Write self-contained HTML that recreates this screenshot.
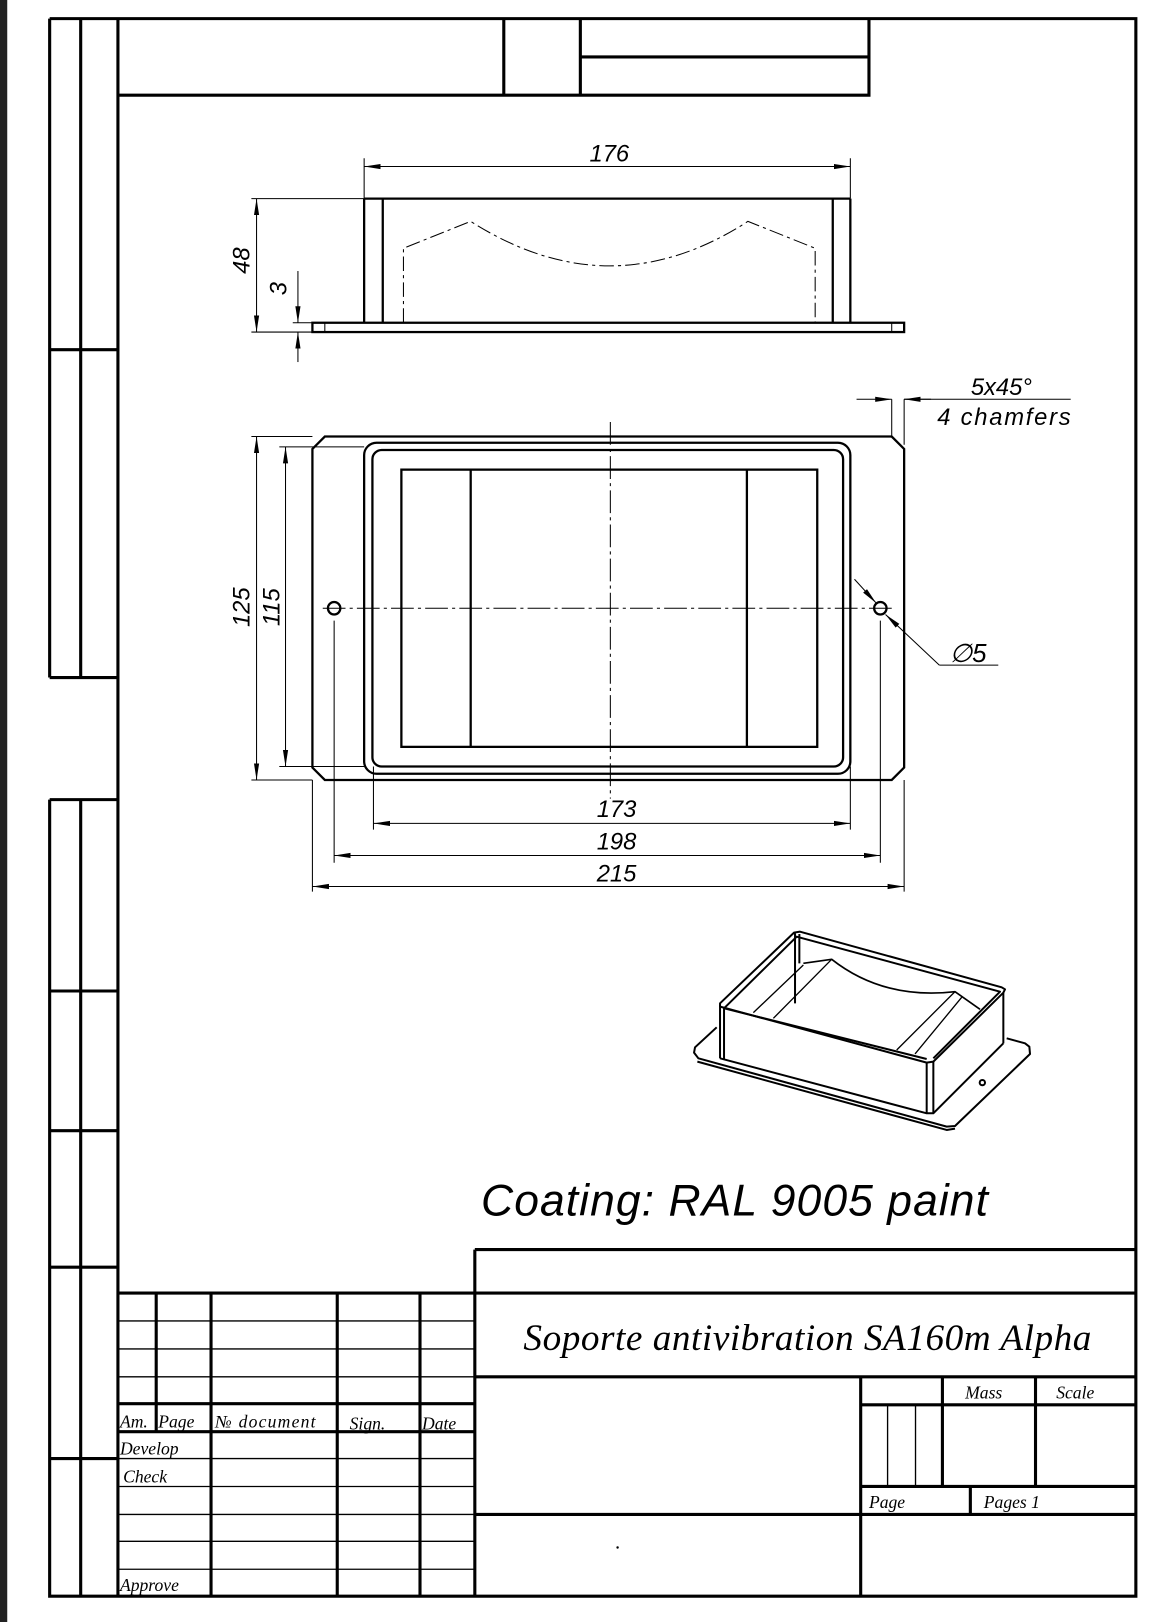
<!DOCTYPE html>
<html><head><meta charset="utf-8"><style>
html,body{margin:0;padding:0;background:#fff;}
svg{display:block;}
.d{font-family:"Liberation Sans",sans-serif;font-style:italic;}
.s{font-family:"Liberation Serif",serif;font-style:italic;}
</style></head><body>
<svg width="1170" height="1622" viewBox="0 0 1131 1568" preserveAspectRatio="none" xmlns="http://www.w3.org/2000/svg">
<defs>
<marker id="a" viewBox="0 0 16 6" refX="16" refY="3" markerWidth="16" markerHeight="6" markerUnits="userSpaceOnUse" orient="auto-start-reverse"><path d="M0,0.5 L16,3 L0,5.5 Z" fill="#000"/></marker>
</defs>
<rect x="0" y="0" width="7" height="1568" fill="#222"/>
<g stroke="#000" fill="none">
<g stroke-width="3">
<path d="M48,18 H1098 V1543 H48 V773 M48,655 V18"/>
<path d="M78,18 V655 M78,773 V1543 M114,18 V1543"/>
<path d="M48,338 H114 M48,655 H114 M48,773 H114 M48,958 H114 M48,1093 H114 M48,1225 H114 M48,1410 H114"/>
<path d="M114,92 H840 V18 M487,18 V92 M561,18 V92 M561,55 H840"/>
<path d="M459,1208 H1098 M114,1250 H1098 M459,1331 H1098 M832,1358 H1098 M832,1437 H1098 M459,1464 H1098"/>
<path d="M459,1208 V1543 M832,1331 V1543 M911,1331 V1437 M1001,1331 V1437 M938,1437 V1464"/>
<path d="M114,1357 H459 M114,1384 H459"/>
<path d="M151,1250 V1384 M204,1250 V1543 M326,1250 V1543 M406,1250 V1543"/>
</g>
<g stroke-width="1.3">
<path d="M114,1277 H459 M114,1304 H459 M114,1331 H459 M114,1410 H459 M114,1437 H459 M114,1464 H459 M114,1490 H459 M114,1517 H459"/>
<path d="M858,1358 V1437 M885,1358 V1437"/>
</g>

<!-- side view -->
<g stroke-width="2.2">
<path d="M352,192 H822 M352,192 V312 M370,192 V312 M805,192 V312 M822,192 V312"/>
<rect x="302" y="312" width="572" height="9"/>
</g>
<g stroke-width="1">
<path d="M314,312 V321 M862,312 V321"/>
<path d="M390,312 V240 L455,214 Q590,300 723,214 L788,240 V312" stroke-dasharray="14,4,3,4"/>
<path d="M352,153 V192 M822,153 V192"/>
<path d="M352,161 H822" marker-start="url(#a)" marker-end="url(#a)"/>
<path d="M243,192 H352 M243,321 H302"/>
<path d="M248,192 V321" marker-start="url(#a)" marker-end="url(#a)"/>
<path d="M283,312 H302"/>
<path d="M288,262 V312" marker-end="url(#a)"/>
<path d="M288,350 V321" marker-end="url(#a)"/>
</g>

<!-- plan view -->
<g stroke-width="2.2">
<path d="M314,422 H862 L874,434 V742 L862,754 H314 L302,742 V434 Z"/>
<rect x="352" y="428" width="470" height="320" rx="12"/>
<rect x="360" y="435" width="455" height="306" rx="9"/>
<rect x="388" y="454" width="402" height="268"/>
<path d="M455,454 V722 M722,454 V722"/>
<circle cx="323" cy="588" r="6"/>
<circle cx="851" cy="588" r="6"/>
</g>
<g stroke-width="1">
<path d="M590,408 V772 M312,588 H862" stroke-dasharray="22,4,3,4"/>
<path d="M243,422 H302 M243,754 H302 M270,432 H352 M270,741 H352"/>
<path d="M248,422 V754" marker-start="url(#a)" marker-end="url(#a)"/>
<path d="M276,432 V741" marker-start="url(#a)" marker-end="url(#a)"/>
<path d="M361,741 V802 M822,741 V802 M323,600 V834 M851,600 V834 M302,754 V862 M874,754 V862"/>
<path d="M361,796 H822" marker-start="url(#a)" marker-end="url(#a)"/>
<path d="M323,827 H851" marker-start="url(#a)" marker-end="url(#a)"/>
<path d="M302,857 H874" marker-start="url(#a)" marker-end="url(#a)"/>
<path d="M862,386 V422 M874,386 V430 M1035,386 H874"/>
<path d="M828,386 H862" marker-end="url(#a)"/>
<path d="M900,386 H874" marker-end="url(#a)"/>
<path d="M826,560 L847,583" marker-end="url(#a)"/>
<path d="M908,643 L856,594" marker-end="url(#a)"/>
<path d="M908,643 H965"/>
</g>

<!-- 3D view -->
<g transform="translate(647.7,879.7) scale(0.3222)" stroke-width="6" stroke-linejoin="round">
<path d="M140,352 L75,412 L72,428 L85,445 L830,650 L855,648 L1080,432 L1078,410 L1065,400 L1010,385"/>
<path d="M82,455 L830,660 L855,656"/>
<path d="M150,290 L770,458 L790,455 L1000,248 L1005,238 L995,232 L390,65 L372,68 L150,280 Z"/>
<path d="M162,295 L380,80 L990,245 L790,445 M162,295 L770,447"/>
<path d="M150,285 V445 M162,295 V450 M770,458 V610 M790,455 V610 M1000,248 V400 M375,70 V280 M388,72 V160"/>
<path d="M150,445 L770,610 L790,610 L1000,400"/>
<path d="M400,160 L485,148 Q640,270 855,245 L930,298" stroke-width="5"/>
<path d="M485,148 L310,325 M400,165 L250,308 M855,245 L680,420 M875,262 L735,432" stroke-width="4"/>
<circle cx="937" cy="518" r="8"/>
</g>
</g>

<g class="d" font-size="23" fill="#000">
<text x="589" y="156" text-anchor="middle">176</text>
<text transform="translate(241,252) rotate(-90)" text-anchor="middle">48</text>
<text transform="translate(277,279) rotate(-90)" text-anchor="middle">3</text>
<text transform="translate(241,587) rotate(-90)" text-anchor="middle">125</text>
<text transform="translate(270,587) rotate(-90)" text-anchor="middle">115</text>
<text x="596" y="790" text-anchor="middle">173</text>
<text x="596" y="821" text-anchor="middle">198</text>
<text x="596" y="852" text-anchor="middle">215</text>
<text x="968" y="382" text-anchor="middle">5x45°</text>
<text x="906" y="411" textLength="129">4 chamfers</text>
<text x="918" y="640" font-size="25">∅5</text>
</g>
<text x="465" y="1175" font-family="Liberation Sans,sans-serif" font-style="italic" font-size="43" fill="#000" textLength="490">Coating: RAL 9005 paint</text>
<g class="s" fill="#000" font-size="17">
<text x="506" y="1305" font-size="36" textLength="549">Soporte antivibration SA160m Alpha</text>
<text x="933" y="1352">Mass</text>
<text x="1021" y="1352">Scale</text>
<text x="840" y="1458">Page</text>
<text x="951" y="1458">Pages 1</text>
<text x="116" y="1380">Am.</text>
<text x="153" y="1380">Page</text>
<text x="208" y="1380" textLength="97">№ document</text>
<text x="338" y="1382">Sign.</text>
<text x="408" y="1382">Date</text>
<text x="116" y="1406">Develop</text>
<text x="119" y="1433">Check</text>
<text x="116" y="1538">Approve</text>
</g>
<circle cx="597" cy="1496" r="1.2" fill="#000"/>
</svg>
</body></html>
